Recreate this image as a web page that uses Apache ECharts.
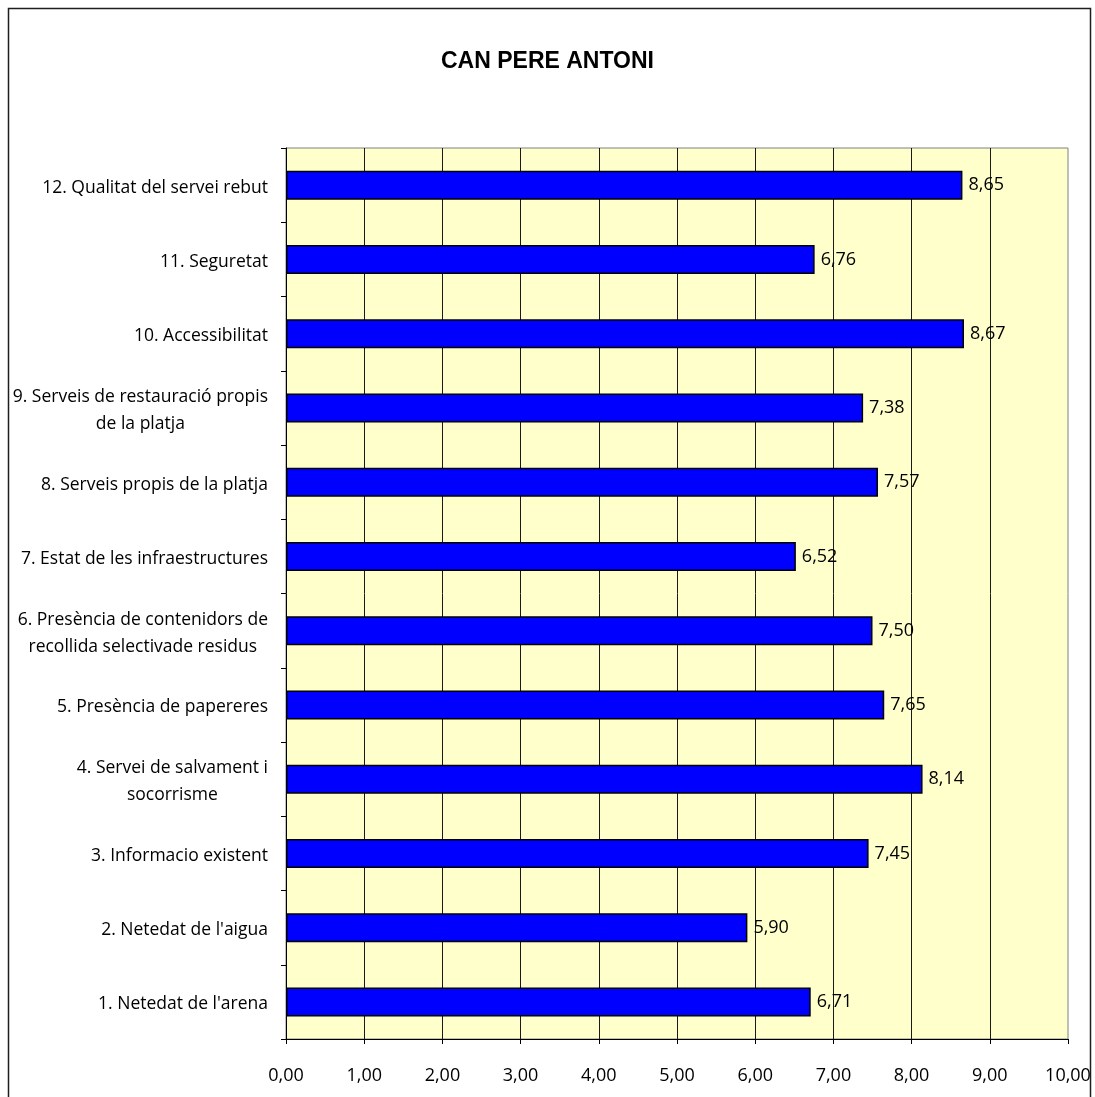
<!DOCTYPE html>
<html>
<head>
<meta charset="utf-8">
<title>CAN PERE ANTONI</title>
<script src="https://cdn.jsdelivr.net/npm/echarts@6/dist/echarts.min.js"></script>
<style>
  html, body { margin: 0; padding: 0; background: #ffffff; }
  #chart { width: 1095px; height: 1097px; }
</style>
</head>
<body>
<div id="chart"></div>
<script>
// Survey items, listed bottom to top
const categories = [
  "1. Netedat de l'arena",
  "2. Netedat de l'aigua",
  "3. Informacio existent",
  "4. Servei de salvament i\nsocorrisme",
  "5. Presència de papereres",
  "6. Presència de contenidors de\nrecollida selectivade residus",
  "7. Estat de les infraestructures",
  "8. Serveis propis de la platja",
  "9. Serveis de restauració propis\nde la platja",
  "10. Accessibilitat",
  "11. Seguretat",
  "12. Qualitat del servei rebut"
];

// Average score per item
const scores = [6.71, 5.90, 7.45, 8.14, 7.65, 7.50, 6.52, 7.57, 7.38, 8.67, 6.76, 8.65];

const chartTitle = 'CAN PERE ANTONI';
const axisMin = 0;
const axisMax = 10;
const axisStep = 1;

const fmt = v => Number(v).toFixed(2).replace('.', ',');
const FONT = '"Open Sans", "Liberation Sans", sans-serif';

const chart = echarts.init(document.getElementById('chart'), null, { renderer: 'canvas' });

chart.setOption({
  backgroundColor: '#ffffff',
  animation: false,
  title: {
    text: chartTitle,
    left: 'center',
    top: 45,
    textStyle: {
      fontFamily: '"Liberation Sans", Arial, sans-serif',
      fontWeight: 'bold',
      fontSize: 23,
      color: '#000000'
    }
  },
  graphic: [{
    type: 'rect',
    silent: true,
    z: 100,
    shape: { x: 8.5, y: 8.5, width: 1082, height: 1120 },
    style: { fill: 'none', stroke: '#1e1e1e', lineWidth: 1.5 }
  }],
  grid: {
    left: 286,
    right: 27,
    top: 148,
    bottom: 58,
    show: true,
    backgroundColor: '#FFFFCC',
    borderColor: '#808080',
    borderWidth: 1
  },
  xAxis: {
    type: 'value',
    min: axisMin,
    max: axisMax,
    interval: axisStep,
    axisLine: { show: true, lineStyle: { color: '#000000', width: 1 } },
    axisTick: { show: true, length: 5, lineStyle: { color: '#000000' } },
    axisLabel: {
      margin: 28,
      formatter: fmt,
      fontFamily: FONT,
      fontSize: 18,
      color: '#000000'
    },
    splitLine: {
      show: true,
      showMinLine: false,
      showMaxLine: false,
      lineStyle: { color: '#1a1a1a', width: 1 }
    }
  },
  yAxis: {
    type: 'category',
    data: categories,
    axisLine: { show: true, lineStyle: { color: '#000000', width: 1 } },
    axisTick: { show: true, length: 5, interval: 0, lineStyle: { color: '#000000' } },
    axisLabel: {
      margin: 18,
      interval: 0,
      fontFamily: FONT,
      fontSize: 17.5,
      lineHeight: 27,
      color: '#000000',
      padding: [5, 0, 0, 0],
      formatter: v => v.split('\n').map(s => '{c|' + s + '}').join('\n'),
      rich: {
        c: {
          align: 'center',
          fontFamily: FONT,
          fontSize: 17.5,
          lineHeight: 27,
          color: '#000000'
        }
      }
    },
    splitLine: { show: false }
  },
  series: [{
    type: 'bar',
    data: scores,
    barWidth: 29,
    itemStyle: {
      color: '#0000FF',
      borderColor: '#000000',
      borderWidth: 1.5
    },
    label: {
      show: true,
      position: 'right',
      distance: 6,
      formatter: p => fmt(p.value),
      fontFamily: FONT,
      fontSize: 18,
      color: '#000000',
      padding: [4, 0, 0, 0]
    }
  }]
});
</script>
</body>
</html>
